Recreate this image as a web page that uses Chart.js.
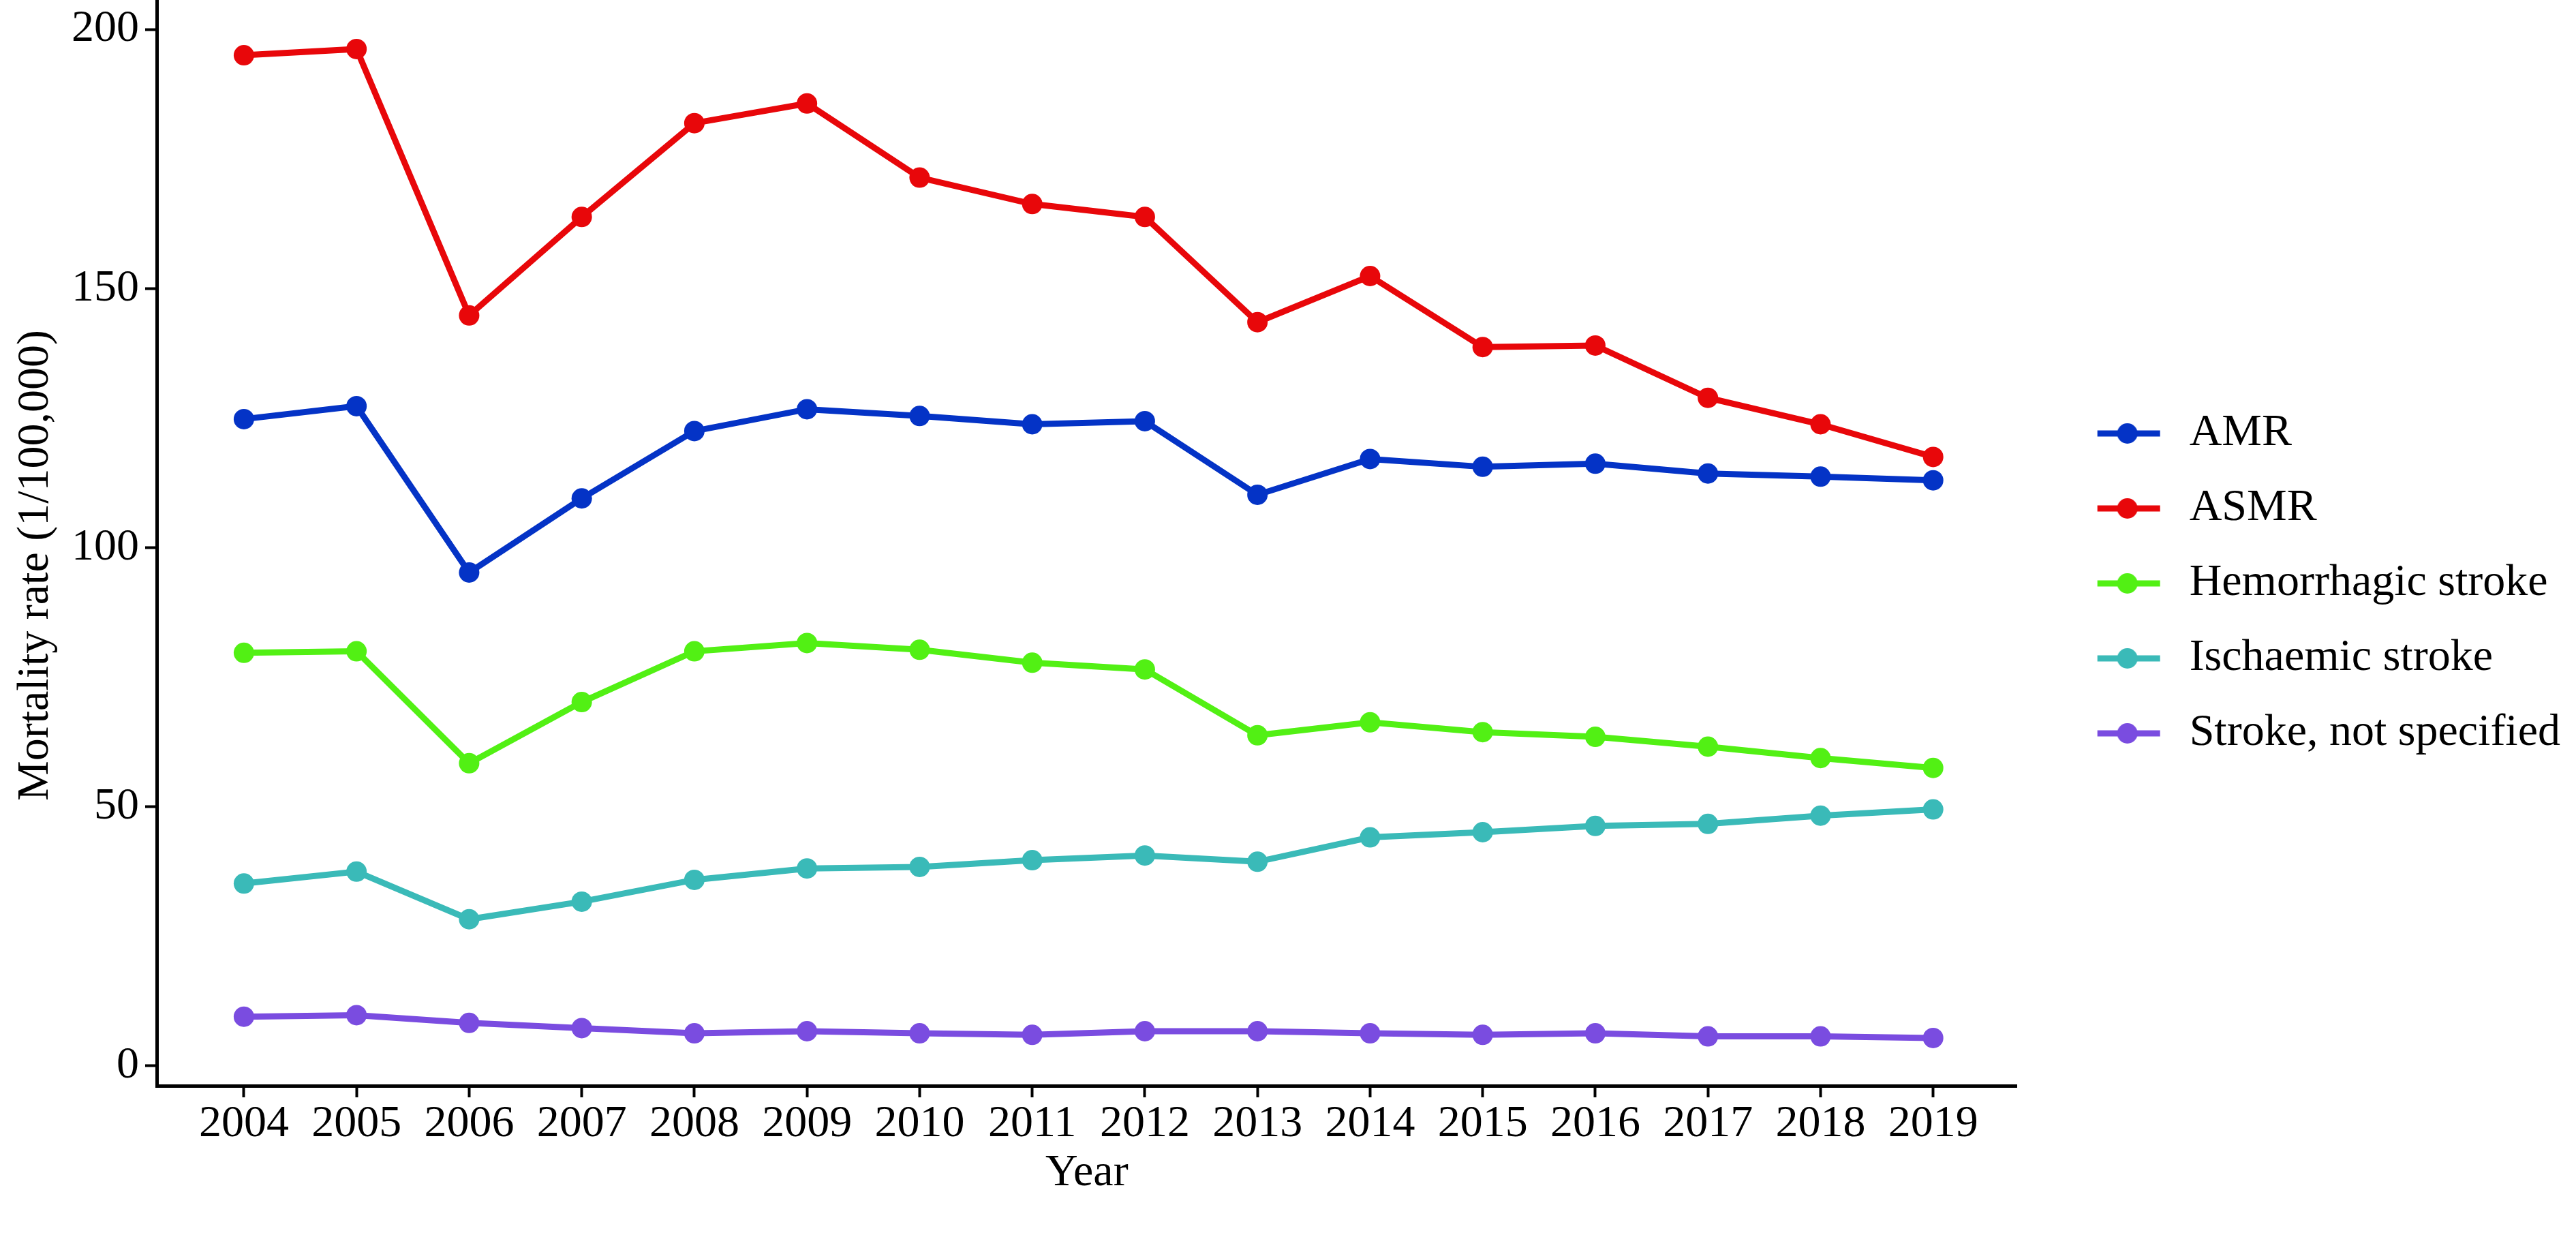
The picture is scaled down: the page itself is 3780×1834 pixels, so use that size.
<!DOCTYPE html>
<html>
<head>
<meta charset="utf-8">
<script src="https://cdn.jsdelivr.net/npm/chart.js@4.4.1/dist/chart.umd.min.js"></script>
<style>
  html, body { margin: 0; padding: 0; background: #ffffff; }
  canvas { display: block; }
</style>
</head>
<body>
<canvas id="chart" width="3780" height="1834"></canvas>
<script>
const years = [2004, 2005, 2006, 2007, 2008, 2009, 2010, 2011, 2012, 2013, 2014, 2015, 2016, 2017, 2018, 2019];

const amr = [124.8, 127.3, 95.2, 109.5, 122.5, 126.7, 125.4, 123.8, 124.4, 110.2, 117.1, 115.6, 116.2, 114.3, 113.7, 113.0];
const asmr = [195.0, 196.2, 144.8, 163.8, 181.9, 185.7, 171.4, 166.3, 163.8, 143.5, 152.4, 138.7, 139.0, 128.9, 123.8, 117.5];
const hemorrhagic = [79.7, 80.0, 58.4, 70.2, 80.0, 81.6, 80.3, 77.8, 76.5, 63.8, 66.3, 64.4, 63.5, 61.6, 59.4, 57.5];
const ischaemic = [35.2, 37.5, 28.3, 31.7, 35.9, 38.1, 38.4, 39.7, 40.6, 39.4, 44.1, 45.1, 46.3, 46.7, 48.3, 49.5];
const notSpecified = [9.5, 9.8, 8.3, 7.3, 6.3, 6.7, 6.3, 6.0, 6.7, 6.7, 6.3, 6.0, 6.3, 5.7, 5.7, 5.4];

const seriesNames = ["AMR", "ASMR", "Hemorrhagic stroke", "Ischaemic stroke", "Stroke, not specified"];
const seriesValues = [amr, asmr, hemorrhagic, ischaemic, notSpecified];
const seriesColors = ["#0433C6", "#E8070A", "#52F014", "#3ABAB8", "#7A4CE0"];

const yTicks = [0, 50, 100, 150, 200];

Chart.defaults.font.family = "Liberation Serif";
Chart.defaults.color = "#000000";

// line + dot key used in the legend (like ggplot)
const legendKey = (color) => {
  const c = document.createElement("canvas");
  c.width = 176;
  c.height = 34;
  const g = c.getContext("2d");
  g.strokeStyle = color;
  g.lineWidth = 9;
  g.beginPath();
  g.moveTo(74, 17);
  g.lineTo(166, 17);
  g.stroke();
  g.fillStyle = color;
  g.beginPath();
  g.arc(118, 17, 15, 0, Math.PI * 2);
  g.fill();
  return c;
};
const legendKeys = seriesColors.map(legendKey);

const datasets = seriesNames.map((name, i) => ({
  label: name,
  data: years.map((yr, j) => ({ x: yr, y: seriesValues[i][j] })),
  borderColor: seriesColors[i],
  backgroundColor: seriesColors[i],
  pointBackgroundColor: seriesColors[i],
  pointBorderWidth: 0,
  pointRadius: 15,
  pointHoverRadius: 15,
  borderWidth: 9,
  tension: 0,
}));

const ctx = document.getElementById("chart").getContext("2d");

new Chart(ctx, {
  type: "line",
  data: { datasets },
  options: {
    responsive: false,
    maintainAspectRatio: false,
    animation: false,
    layout: {
      autoPadding: false,
      padding: { left: 0, right: 13, top: 0, bottom: 0 },
    },
    scales: {
      x: {
        type: "linear",
        min: 2003.226,
        max: 2019.744,
        afterFit: (scale) => {
          scale.height = 241;
        },
        afterBuildTicks: (scale) => {
          scale.ticks = years.map((v) => ({ value: v }));
        },
        ticks: {
          autoSkip: false,
          maxRotation: 0,
          padding: 0,
          font: { size: 66 },
          color: "#000000",
          callback: (value) => String(value),
        },
        title: {
          display: true,
          text: "Year",
          font: { size: 66 },
          color: "#000000",
          padding: { top: 0, bottom: 73 },
        },
        grid: {
          drawOnChartArea: false,
          drawTicks: true,
          tickLength: 17,
          tickWidth: 4,
          tickColor: "#000000",
        },
        border: { display: true, color: "#000000", width: 5 },
      },
      y: {
        type: "linear",
        min: -3.82,
        max: 205.66,
        afterFit: (scale) => {
          scale.width = 230;
          scale.paddingTop = 0;
          scale.paddingBottom = 0;
        },
        afterBuildTicks: (scale) => {
          scale.ticks = yTicks.map((v) => ({ value: v }));
        },
        ticks: {
          padding: 9,
          font: { size: 66 },
          color: "#000000",
          callback: (value) => String(value),
        },
        title: {
          display: true,
          // trailing nbsp nudge the rotated title down a little, as in the original
          text: "Mortality rate (1/100,000)\u00A0\u00A0\u00A0\u00A0",
          font: { size: 66 },
          color: "#000000",
          padding: { top: 13, bottom: 0 },
        },
        grid: {
          drawOnChartArea: false,
          drawTicks: true,
          tickLength: 17,
          tickWidth: 4,
          tickColor: "#000000",
        },
        border: { display: true, color: "#000000", width: 5 },
      },
    },
    plugins: {
      tooltip: { enabled: false },
      legend: {
        position: "right",
        fullSize: false,
        align: "center",
        title: {
          display: true,
          text: "",
          font: { size: 10 },
          padding: { top: 0, bottom: 107 },
        },
        labels: {
          usePointStyle: true,
          pointStyleWidth: 176,
          boxHeight: 34,
          padding: 44,
          color: "#000000",
          font: { size: 66 },
          generateLabels: (chart) =>
            chart.data.datasets.map((ds, i) => ({
              text: ds.label,
              fillStyle: seriesColors[i],
              strokeStyle: seriesColors[i],
              lineWidth: 0,
              pointStyle: legendKeys[i],
              hidden: false,
              datasetIndex: i,
            })),
        },
      },
    },
  },
});
</script>
</body>
</html>
